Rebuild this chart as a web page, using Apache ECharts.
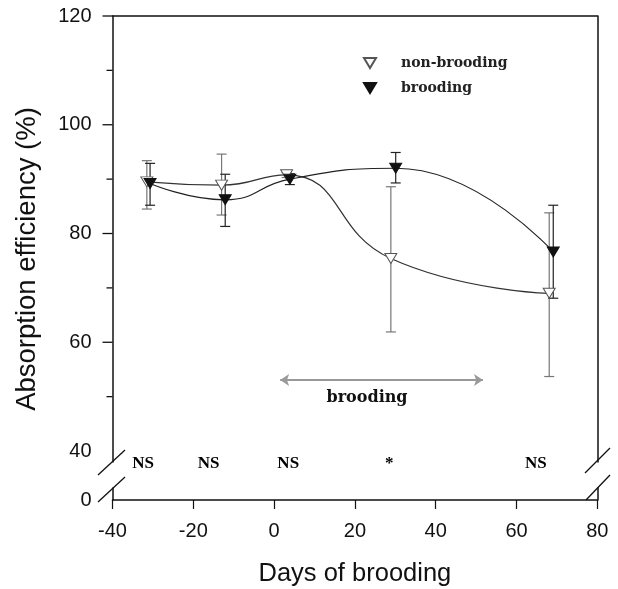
<!DOCTYPE html>
<html>
<head>
<meta charset="utf-8">
<script src="https://cdn.jsdelivr.net/npm/echarts@6/dist/echarts.min.js"></script>
<style>html,body{margin:0;padding:0;background:#fff;}#c{width:618px;height:589px;}</style>
</head>
<body>
<div id="c"></div>
<script>
// ---- data ----
const daysNonBrooding = [-31.5, -13.0, 3.1, 28.9, 68.1];
const daysBrooding    = [-30.7, -12.1, 3.9, 30.1, 69.1];
const nonBrooding     = [89.5, 88.9, 90.8, 75.4, 69.0];
const nonBroodingLow  = [84.5, 83.4, 90.3, 61.9, 53.7];
const nonBroodingHigh = [93.4, 94.6, 91.2, 88.6, 83.8];
const brooding        = [89.2, 86.2, 90.0, 92.0, 76.6];
const broodingLow     = [85.2, 81.3, 89.0, 89.3, 68.1];
const broodingHigh    = [92.9, 90.9, 91.0, 94.9, 85.2];
const xTicks = [-40, -20, 0, 20, 40, 60, 80];
const yLabels = [40, 60, 80, 100, 120];
const yMajorTicks = [60, 80, 100, 120];
const yMinorTicks = [50, 70, 90, 110];
const sigDays = [-32.4, -16.2, 3.5, 28.5, 64.8];
const sigLabels = ['NS', 'NS', 'NS', '*', 'NS'];
const sigLevel = 37.6;
const broodingPeriod = [1.5, 51.7];
const broodingArrowLevel = 53.06;
const broodingLabelPos = [23.0, 49.7];

const triDown = 'path://M0,0L12,0L6,10Z';
const font = 'Liberation Sans, Arial, sans-serif';
const serif = 'DejaVu Serif, serif';

function pairs(xs, ys) { return xs.map((x, i) => [x, ys[i]]); }
function errData(xs, lo, hi) { return xs.map((x, i) => [x, lo[i], hi[i]]); }
function errRender(color) {
  return function (params, api) {
    const x = api.value(0), lo = api.value(1), hi = api.value(2);
    const a = api.coord([x, lo]), b = api.coord([x, hi]);
    const w = 5;
    const st = { stroke: color, lineWidth: 1.2 };
    return { type: 'group', children: [
      { type: 'line', shape: { x1: a[0], y1: a[1], x2: b[0], y2: b[1] }, style: st },
      { type: 'line', shape: { x1: a[0] - w, y1: a[1], x2: a[0] + w, y2: a[1] }, style: st },
      { type: 'line', shape: { x1: b[0] - w, y1: b[1], x2: b[0] + w, y2: b[1] }, style: st }
    ]};
  };
}
// y-axis ticks drawn through the axis scale (major long, minor short)
function tickRender(len) {
  return function (params, api) {
    const p = api.coord([-40, api.value(0)]);
    return { type: 'line', shape: { x1: p[0] - len, y1: p[1], x2: p[0], y2: p[1] },
             style: { stroke: '#111', lineWidth: 1.3 } };
  };
}

const axisLine = { show: true, onZero: false, lineStyle: { color: '#111', width: 1.5 } };
const chart = echarts.init(document.getElementById('c'), null, { renderer: 'canvas' });
chart.setOption({
  backgroundColor: '#fff',
  animation: false,
  grid: [
    { left: 112.5, right: 20.7, top: 16, bottom: 127.1 },
    { left: 112.5, right: 20.7, top: 488, bottom: 89 }
  ],
  xAxis: [
    { gridIndex: 0, type: 'value', min: -40, max: 80, interval: 20, position: 'top',
      axisLine: axisLine, axisTick: { show: false }, axisLabel: { show: false }, splitLine: { show: false } },
    { gridIndex: 1, type: 'value', min: -40, max: 80, interval: 20, position: 'bottom',
      axisLine: axisLine, axisTick: { show: true, length: 9, inside: false, lineStyle: { color: '#111', width: 1.2 } },
      axisLabel: { show: true, fontFamily: font, fontSize: 20, color: '#111', margin: 21,
                   customValues: xTicks },
      splitLine: { show: false },
      name: 'Days of brooding', nameLocation: 'middle', nameGap: 61,
      nameTextStyle: { fontFamily: font, fontSize: 25.5, color: '#111' } }
  ],
  yAxis: [
    { gridIndex: 0, type: 'value', min: 38, max: 120, position: 'left',
      axisLine: axisLine,
      axisTick: { show: false },
      axisLabel: { show: true, customValues: yLabels, fontFamily: font, fontSize: 20, color: '#111', margin: 21 },
      splitLine: { show: false } },
    { gridIndex: 0, type: 'value', min: 38, max: 120, position: 'right',
      axisLine: axisLine, axisTick: { show: false }, axisLabel: { show: false }, splitLine: { show: false } },
    { gridIndex: 1, type: 'value', min: 0, max: 2, position: 'left',
      axisLine: axisLine, axisTick: { show: false },
      axisLabel: { show: true, customValues: [0], fontFamily: font, fontSize: 20, color: '#111', margin: 21 },
      splitLine: { show: false } },
    { gridIndex: 1, type: 'value', min: 0, max: 2, position: 'right',
      axisLine: axisLine, axisTick: { show: false }, axisLabel: { show: false }, splitLine: { show: false } }
  ],
  legend: {
    orient: 'vertical', left: 358, top: 51, itemWidth: 12, itemHeight: 10, itemGap: 11,
    textStyle: { fontFamily: serif, fontWeight: 'bold', fontSize: 14, color: '#222', padding: [0, 0, 0, 20] },
    data: [
      { name: 'non-brooding', icon: triDown },
      { name: 'brooding', icon: triDown }
    ]
  },
  series: [
    { type: 'custom', name: 'major-ticks', xAxisIndex: 0, yAxisIndex: 0, clip: false, silent: true,
      renderItem: tickRender(10), encode: { y: 0 }, data: yMajorTicks.map(v => [v]) },
    { type: 'custom', name: 'minor-ticks', xAxisIndex: 0, yAxisIndex: 0, clip: false, silent: true,
      renderItem: tickRender(6), encode: { y: 0 }, data: yMinorTicks.map(v => [v]) },
    { type: 'custom', name: 'nb-err', xAxisIndex: 0, yAxisIndex: 0, z: 2,
      renderItem: errRender('#777'), encode: { x: 0, y: [1, 2] },
      data: errData(daysNonBrooding, nonBroodingLow, nonBroodingHigh) },
    { type: 'custom', name: 'b-err', xAxisIndex: 0, yAxisIndex: 0, z: 2,
      renderItem: errRender('#222'), encode: { x: 0, y: [1, 2] },
      data: errData(daysBrooding, broodingLow, broodingHigh) },
    { type: 'line', name: 'non-brooding', xAxisIndex: 0, yAxisIndex: 0, z: 3,
      smooth: 0.5, symbol: triDown, symbolSize: [12, 10],
      itemStyle: { color: '#fff', borderColor: '#555', borderWidth: 1 },
      lineStyle: { color: '#333', width: 1.2 },
      data: pairs(daysNonBrooding, nonBrooding) },
    { type: 'line', name: 'brooding', xAxisIndex: 0, yAxisIndex: 0, z: 4,
      smooth: 0.5, symbol: triDown, symbolSize: [12, 10],
      itemStyle: { color: '#111', borderColor: '#111', borderWidth: 1 },
      lineStyle: { color: '#222', width: 1.2 },
      data: pairs(daysBrooding, brooding) },
    { type: 'scatter', name: 'sig', xAxisIndex: 0, yAxisIndex: 0, clip: false, silent: true,
      symbolSize: 0, itemStyle: { opacity: 1 },
      label: { show: true, position: 'inside', formatter: p => sigLabels[p.dataIndex],
               fontFamily: 'Liberation Serif, serif', fontWeight: 'bold', fontSize: 17, color: '#000', opacity: 1 },
      data: sigDays.map(d => [d, sigLevel]) },
    { type: 'scatter', name: 'period', xAxisIndex: 0, yAxisIndex: 0, clip: false, silent: true,
      symbolSize: 0, itemStyle: { opacity: 1 },
      label: { show: true, position: 'inside', formatter: 'brooding',
               fontFamily: serif, fontWeight: 'bold', fontSize: 16, color: '#111', opacity: 1 },
      data: [broodingLabelPos],
      markLine: { silent: true, symbol: ['arrow', 'arrow'], symbolSize: [9, 9],
        label: { show: false },
        lineStyle: { color: '#999', width: 2, type: 'solid', opacity: 1 },
        data: [[ { coord: [broodingPeriod[0], broodingArrowLevel] },
                 { coord: [broodingPeriod[1], broodingArrowLevel] } ]] } }
  ],
  graphic: [
    { type: 'line', shape: { x1: 98, y1: 475, x2: 125, y2: 450 }, style: { stroke: '#111', lineWidth: 1.3 } },
    { type: 'line', shape: { x1: 98, y1: 502, x2: 125, y2: 477 }, style: { stroke: '#111', lineWidth: 1.3 } },
    { type: 'line', shape: { x1: 585, y1: 473, x2: 610, y2: 448 }, style: { stroke: '#111', lineWidth: 1.3 } },
    { type: 'line', shape: { x1: 586, y1: 500, x2: 610, y2: 475 }, style: { stroke: '#111', lineWidth: 1.3 } },
    { type: 'text', x: 27, y: 259, rotation: Math.PI / 2,
      style: { text: 'Absorption efficiency (%)', fontFamily: font, fontSize: 27.5, fill: '#111',
               textAlign: 'center', textVerticalAlign: 'middle' } }
  ]
});
</script>
</body>
</html>
